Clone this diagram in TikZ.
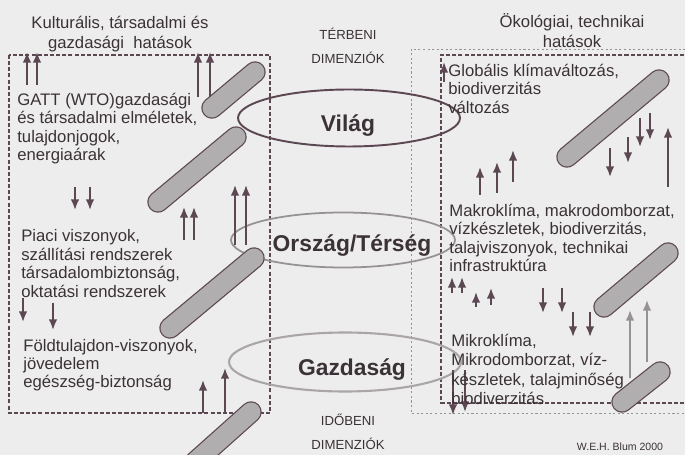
\documentclass[tikz,border=0pt]{standalone}
\usepackage{fontspec}
\setmainfont{Liberation Sans}
\usepackage{tikz}
\usetikzlibrary{arrows.meta,backgrounds}
\definecolor{papier}{RGB}{238,237,237}
\definecolor{tinte}{RGB}{58,50,54}
\definecolor{pfeil}{RGB}{92,72,82}
\definecolor{balken}{RGB}{176,174,174}
\definecolor{hellgrau}{RGB}{150,146,148}
\definecolor{blassgrau}{RGB}{170,166,168}

\begin{document}
\begin{tikzpicture}[x=0.02cm,y=-0.02cm,
  txt/.style={text=tinte,inner sep=0pt,font=\fontsize{9.5}{10.4}\selectfont,align=left,anchor=north west},
  kopf/.style={text=tinte,inner sep=0pt,font=\fontsize{9.5}{11.4}\selectfont,align=center,anchor=north},
  dim/.style={text=tinte,inner sep=0pt,font=\fontsize{7.5}{8}\selectfont},
  ebene/.style={text=tinte,inner sep=0pt,font=\fontsize{13}{14}\selectfont\bfseries,anchor=base},
  balkenstil/.style={draw=pfeil,line width=0.7pt,double=balken,double distance=0.38cm,line cap=round},
  hoch/.style={pfeil,line width=1pt,-{Latex[length=6pt,width=4.8pt]}},
  grauhoch/.style={hellgrau,line width=1pt,-{Latex[length=6pt,width=4.8pt]}},
  rahmen/.style={pfeil,line width=0.6pt,dash pattern=on 2.3pt off 1.2pt},
  aussen/.style={hellgrau,line width=0.5pt,dash pattern=on 1.2pt off 1.4pt}]
\fill[papier] (0,0) rectangle (685,455);
\useasboundingbox (0,0) rectangle (685,455);

\draw[rahmen] (9,55) rectangle (270,413);
\draw[aussen] (690,49) -- (411,49) -- (411,413) -- (690,413);
\draw[rahmen] (690,55) -- (441,55) -- (441,403) -- (690,403);

\draw[pfeil,line width=1.1pt] (349,118) ellipse [x radius=2.22cm,y radius=0.57cm];
\draw[hellgrau,line width=1pt] (343,240) ellipse [x radius=2.24cm,y radius=0.55cm];
\draw[blassgrau,line width=1.2pt] (345,362) ellipse [x radius=2.32cm,y radius=0.59cm];

\foreach \ax/\ay/\bx/\by in {212/108/255/72, 158/202/236/137, 170/328/254/258, 195/462/251/412,
  567/157/659/80, 604/307/668/253, 622/402/660/372}
  \draw[balkenstil] (\ax,\ay) -- (\bx,\by);

\foreach \x/\a/\b in {27/85/52, 37/85/52, 198/97/52, 210/97/52, 184/240/207, 194/240/207,
  235/245/185, 246/245/185, 203/413/380, 225/413/368, 444/82/62, 480/195/167, 497/193/162,
  513/182/150, 668/187/127, 452/293/277, 462/293/277, 476/307/292, 491/305/288,
  75/187/210, 90/187/210, 23/298/322, 53/303/330, 610/148/177, 628/137/163, 640/118/147,
  650/113/140, 543/288/313, 562/288/313, 573/312/337, 590/312/337, 453/370/415, 465/370/412}
  \draw[hoch] (\x,\a) -- (\x,\b);
\draw[grauhoch] (630,378) -- (630,310);
\draw[grauhoch] (647,362) -- (647,300);

\node[kopf] (kultur) at (120,16) {Kulturális, társadalmi és\\gazdasági\ \ hatások};
\node[kopf] (oeko) at (572,13) {Ökológiai, technikai\\hatások};
\node[dim] (terb) at (348,34) {TÉRBENI};
\node[dim] (terbdim) at (348,58) {DIMENZIÓK};
\node[dim] (idob) at (348,420) {IDŐBENI};
\node[dim] (idodim) at (348,444) {DIMENZIÓK};
\node[dim,font=\fontsize{6}{7}\selectfont] (blum) at (620,447) {W.E.H. Blum 2000};

\node[ebene] (welt) at (348,132) {Világ};
\node[ebene] (land) at (352,252) {Ország/Térség};
\node[ebene] (wirt) at (352,375) {Gazdaság};

\node[txt] (gatt) at (17,93) {GATT (WTO)gazdasági\\és társadalmi elméletek,\\tulajdonjogok,\\energiaárak};
\node[txt,font=\fontsize{9.5}{10.6}\selectfont] (piaci) at (21,229) {Piaci viszonyok,\\szállítási rendszerek\\társadalombiztonság,\\oktatási rendszerek};
\node[txt] (foeld) at (23,339) {Földtulajdon-viszonyok,\\jövedelem\\egészség-biztonság};
\node[txt] (global) at (448,64) {Globális klímaváltozás,\\biodiverzitás\\változás};
\node[txt] (makro) at (449,204) {Makroklíma, makrodomborzat,\\vízkészletek, biodiverzitás,\\talajviszonyok, technikai\\infrastruktúra};
\node[txt,font=\fontsize{9.5}{11}\selectfont] (mikro) at (451,334) {Mikroklíma,\\Mikrodomborzat, víz-\\készletek, talajminőség\\biodiverzitás};
\end{tikzpicture}
\end{document}
